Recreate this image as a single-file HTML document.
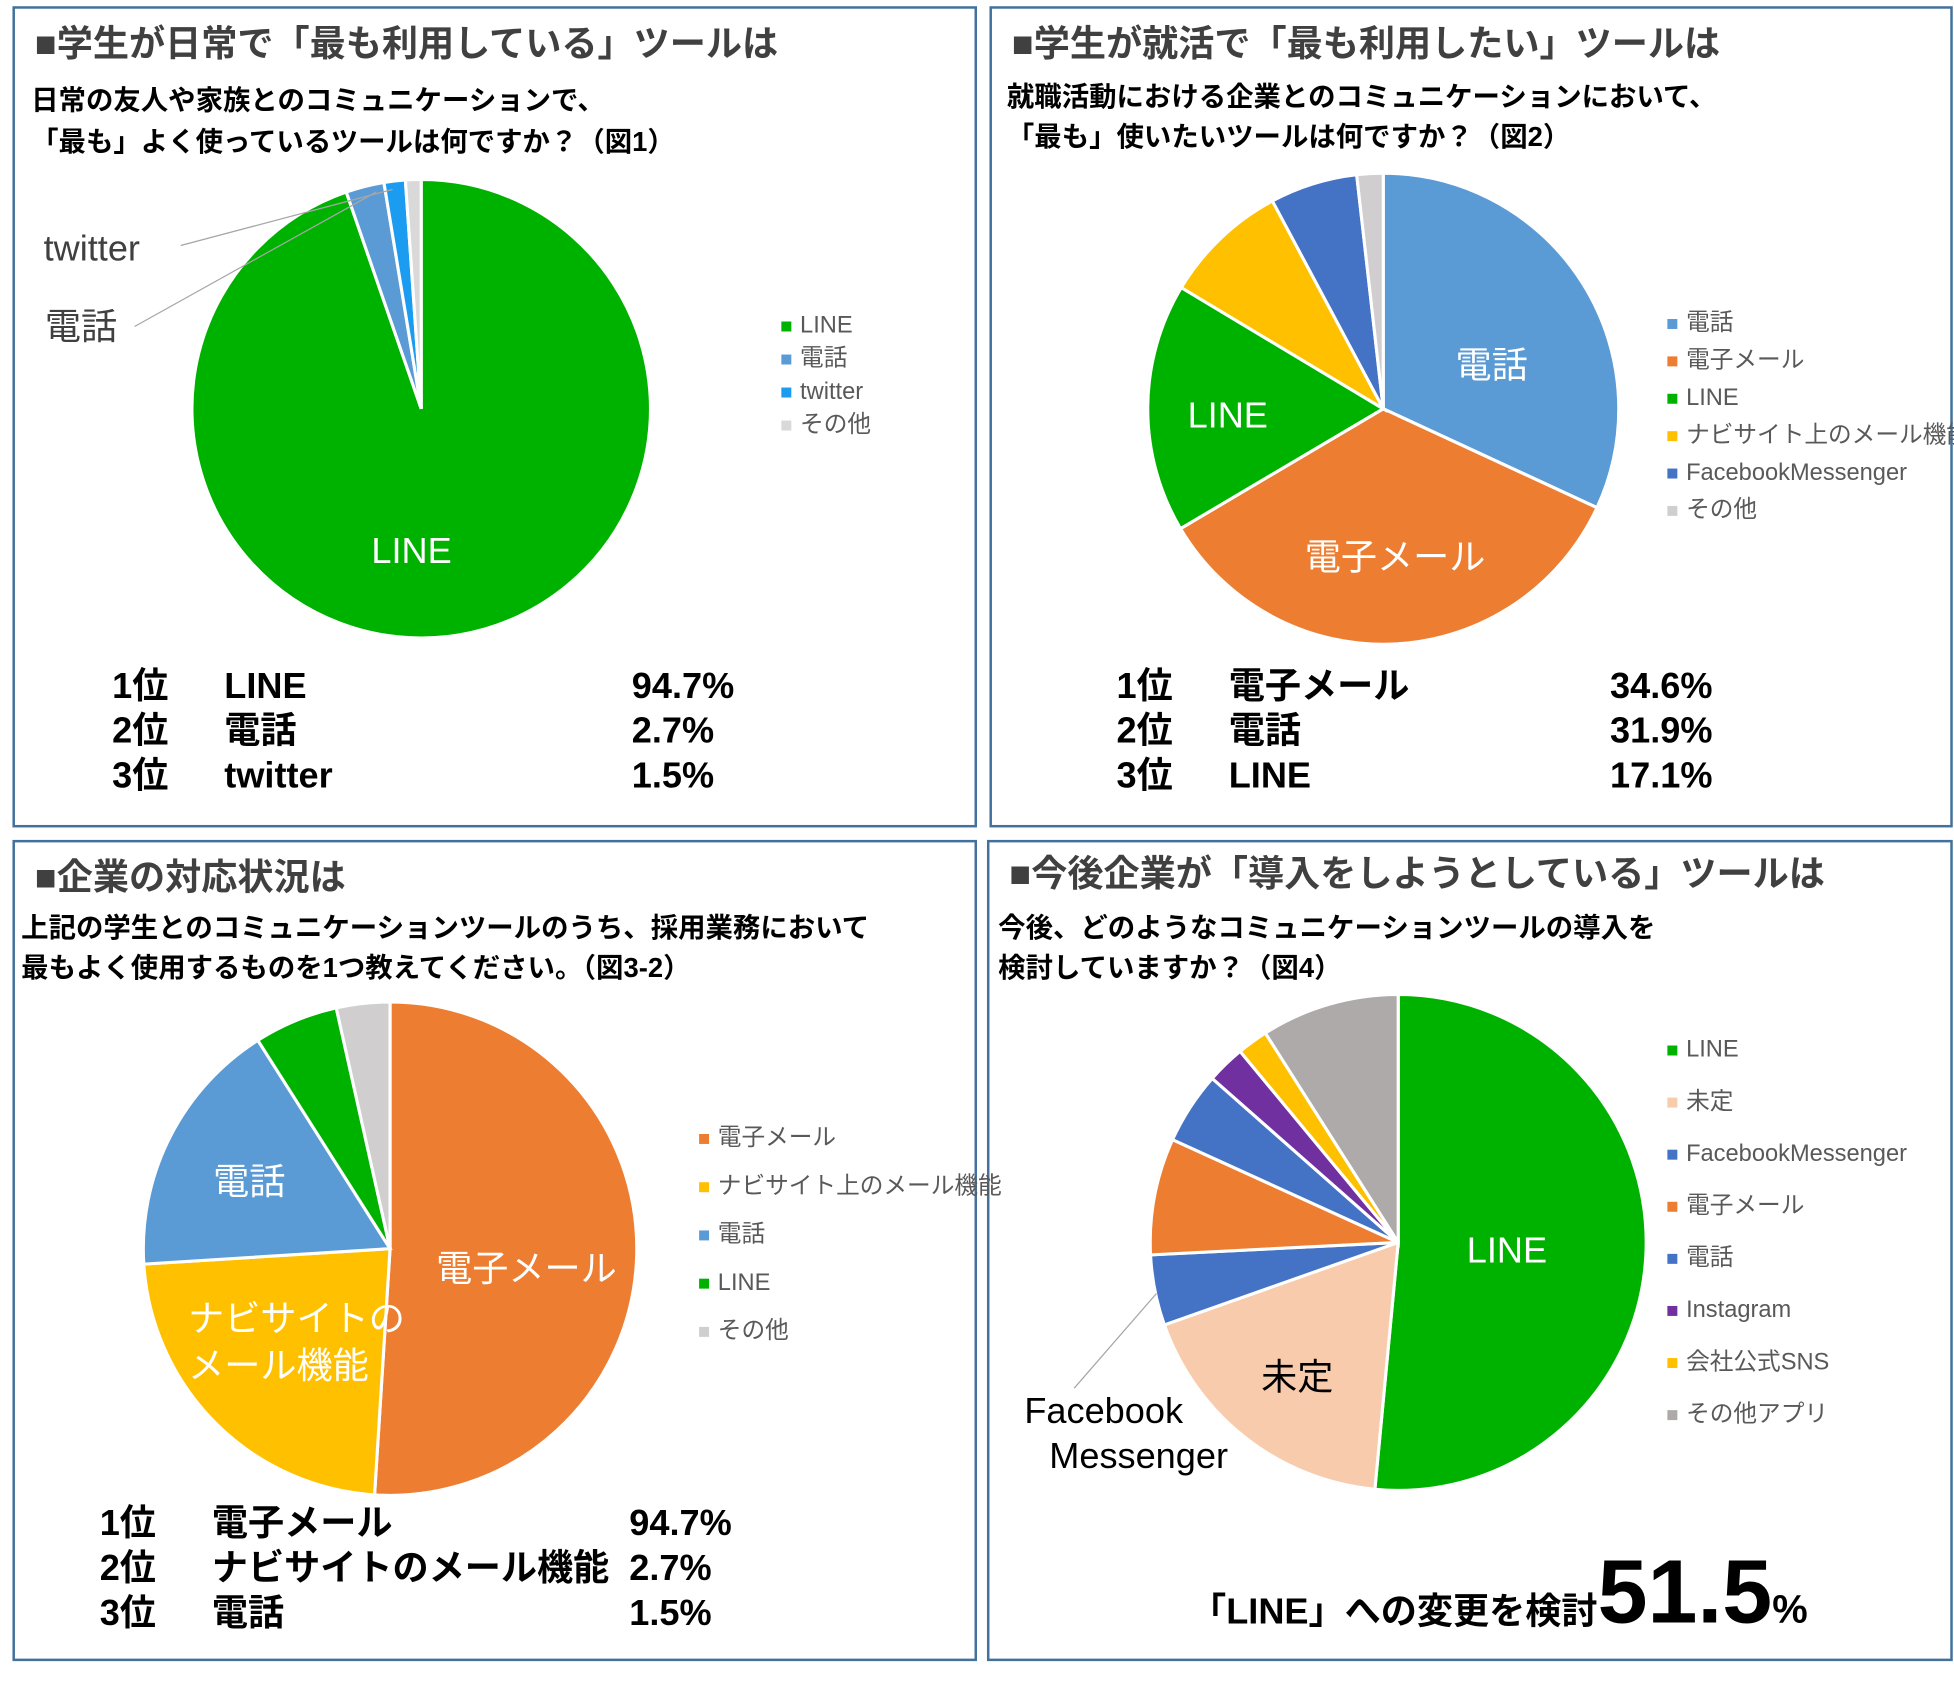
<!DOCTYPE html>
<html><head><meta charset="utf-8"><style>
html,body{margin:0;padding:0;background:#fff;}
svg{display:block;}
text{font-family:"Liberation Sans","Noto Sans CJK JP",sans-serif;}
.t{font-size:29px;font-weight:bold;fill:#404040;}
.s{font-size:22px;font-weight:bold;fill:#000;}
.r{font-size:29px;font-weight:bold;fill:#000;}
.lg{font-size:19px;fill:#595959;}
</style></head><body>
<svg id="root" width="1954" height="1698" viewBox="0 0 1568 1362.6" preserveAspectRatio="none">
<rect x="0" y="0" width="1568" height="1363" fill="#fff"/>
<g fill="none" stroke="#41719c" stroke-width="2">
<rect x="11" y="6" width="772" height="657"/>
<rect x="795" y="6" width="771" height="657"/>
<rect x="11" y="675" width="772" height="657"/>
<rect x="793" y="675" width="773" height="657"/>
</g>
<!-- panel 1 -->
<g>
<text class="t" x="28" y="45">■学生が日常で「最も利用している」ツールは</text>
<text class="s" x="25" y="88">日常の友人や家族とのコミュニケーションで、</text>
<text class="s" x="25" y="121">「最も」よく使っているツールは何ですか？（図1）</text>
<g id="pie1"></g>
<line x1="145" y1="197" x2="315" y2="152" stroke="#a6a6a6" stroke-width="1"/>
<line x1="108" y1="262" x2="302" y2="154" stroke="#a6a6a6" stroke-width="1"/>
<text x="35" y="209" font-size="29" fill="#404040">twitter</text>
<text x="36" y="272" font-size="29" fill="#404040">電話</text>
<text x="298" y="452" font-size="29" fill="#fff">LINE</text>
<g id="leg1"></g>
<g>
<text class="r" x="90" y="560">1位</text><text class="r" x="180" y="560">LINE</text><text class="r" x="507" y="560">94.7%</text>
<text class="r" x="90" y="596">2位</text><text class="r" x="180" y="596">電話</text><text class="r" x="507" y="596">2.7%</text>
<text class="r" x="90" y="632">3位</text><text class="r" x="180" y="632">twitter</text><text class="r" x="507" y="632">1.5%</text>
</g>
</g>
<!-- panel 2 -->
<g>
<text class="t" x="812" y="45">■学生が就活で「最も利用したい」ツールは</text>
<text class="s" x="808" y="85">就職活動における企業とのコミュニケーションにおいて、</text>
<text class="s" x="808" y="117">「最も」使いたいツールは何ですか？（図2）</text>
<g id="pie2"></g>
<text x="1168" y="303" font-size="29" fill="#fff">電話</text>
<text x="953" y="343" font-size="29" fill="#fff">LINE</text>
<text x="1047" y="457" font-size="29" fill="#fff">電子メール</text>
<g id="leg2"></g>
<g>
<text class="r" x="896" y="560">1位</text><text class="r" x="986" y="560">電子メール</text><text class="r" x="1292" y="560">34.6%</text>
<text class="r" x="896" y="596">2位</text><text class="r" x="986" y="596">電話</text><text class="r" x="1292" y="596">31.9%</text>
<text class="r" x="896" y="632">3位</text><text class="r" x="986" y="632">LINE</text><text class="r" x="1292" y="632">17.1%</text>
</g>
</g>
<!-- panel 3 -->
<g>
<text class="t" x="28" y="714">■企業の対応状況は</text>
<text class="s" x="17" y="752">上記の学生とのコミュニケーションツールのうち、採用業務において</text>
<text class="s" x="17" y="784">最もよく使用するものを1つ教えてください。（図3-2）</text>
<g id="pie3"></g>
<text x="171" y="958" font-size="29" fill="#fff">電話</text>
<text x="350" y="1028" font-size="29" fill="#fff">電子メール</text>
<text x="151" y="1068" font-size="29" fill="#fff">ナビサイトの</text>
<text x="151" y="1106" font-size="29" fill="#fff">メール機能</text>
<g id="leg3"></g>
<g>
<text class="r" x="80" y="1232">1位</text><text class="r" x="170" y="1232">電子メール</text><text class="r" x="505" y="1232">94.7%</text>
<text class="r" x="80" y="1268">2位</text><text class="r" x="170" y="1268">ナビサイトのメール機能</text><text class="r" x="505" y="1268">2.7%</text>
<text class="r" x="80" y="1304">3位</text><text class="r" x="170" y="1304">電話</text><text class="r" x="505" y="1304">1.5%</text>
</g>
</g>
<!-- panel 4 -->
<g>
<text class="t" x="810" y="711">■今後企業が「導入をしようとしている」ツールは</text>
<text class="s" x="801" y="752">今後、どのようなコミュニケーションツールの導入を</text>
<text class="s" x="801" y="784">検討していますか？（図4）</text>
<g id="pie4"></g>
<line x1="862" y1="1114" x2="928" y2="1038" stroke="#a6a6a6" stroke-width="1"/>
<text x="1177" y="1013" font-size="29" fill="#fff">LINE</text>
<text x="1012" y="1115" font-size="29" fill="#000">未定</text>
<text x="822" y="1142" font-size="29" fill="#000">Facebook</text>
<text x="842" y="1178" font-size="29" fill="#000">Messenger</text>
<g id="leg4"></g>
<text x="955" y="1303" font-size="29" font-weight="bold" fill="#000">「LINE」への変更を検討</text>
<text x="1282" y="1302" font-size="72" font-weight="bold" fill="#000">51.5<tspan font-size="32">%</tspan></text>
</g>
</svg>
<script>
// Figure 1
const cats1 = ["LINE", "電話", "twitter", "その他"];
const vals1 = [94.7, 2.7, 1.5, 1.1];
const cols1 = ["#00b200", "#5b9bd5", "#1c9cf0", "#d9d9d9"];
// Figure 2
const cats2 = ["電話", "電子メール", "LINE", "ナビサイト上のメール機能", "FacebookMessenger", "その他"];
const vals2 = [31.9, 34.6, 17.1, 8.6, 6.0, 1.8];
const cols2 = ["#5b9bd5", "#ed7d31", "#00b200", "#ffc000", "#4472c4", "#d0cece"];
// Figure 3-2
const cats3 = ["電子メール", "ナビサイト上のメール機能", "電話", "LINE", "その他"];
const vals3 = [51.0, 23.0, 17.0, 5.5, 3.5];
const cols3 = ["#ed7d31", "#ffc000", "#5b9bd5", "#00b200", "#d0cece"];
// Figure 4
const cats4 = ["LINE", "未定", "FacebookMessenger", "電子メール", "電話", "Instagram", "会社公式SNS", "その他アプリ"];
const vals4 = [51.5, 18.1, 4.6, 7.6, 4.7, 2.5, 2.0, 9.0];
const cols4 = ["#00b200", "#f8cbad", "#4472c4", "#ed7d31", "#4472c4", "#7030a0", "#ffc000", "#aeaaaa"];

const NS = "http://www.w3.org/2000/svg";
function angleScale(vals){ const t = vals.reduce((a,b)=>a+b,0); return v => v / t * 2 * Math.PI; }
function drawPie(gid, cats, vals, cols, cx, cy, r){
  const g = document.getElementById(gid);
  const sc = angleScale(vals);
  let a = 0;
  vals.forEach((v,i)=>{
    const a2 = a + sc(v);
    const x1 = cx + r*Math.sin(a), y1 = cy - r*Math.cos(a);
    const x2 = cx + r*Math.sin(a2), y2 = cy - r*Math.cos(a2);
    const large = (a2 - a) > Math.PI ? 1 : 0;
    const p = document.createElementNS(NS, "path");
    p.setAttribute("d", `M${cx},${cy} L${x1},${y1} A${r},${r} 0 ${large} 1 ${x2},${y2} Z`);
    p.setAttribute("fill", cols[i]);
    p.setAttribute("stroke", "#fff");
    p.setAttribute("stroke-width", "2.5");
    
    
    g.appendChild(p);
    a = a2;
  });
}
function drawLegend(gid, cats, cols, x, y0, dy, fs){
  const g = document.getElementById(gid);
  cats.forEach((c,i)=>{
    const y = y0 + i*dy;
    const r = document.createElementNS(NS, "rect");
    r.setAttribute("x", x); r.setAttribute("y", y - 9);
    r.setAttribute("width", 8); r.setAttribute("height", 8);
    r.setAttribute("fill", cols[i]);
    
    
    g.appendChild(r);
    const t = document.createElementNS(NS, "text");
    t.setAttribute("x", x + 15); t.setAttribute("y", y);
    t.setAttribute("font-size", fs); t.setAttribute("fill", "#595959");
    t.textContent = c;
    
    
    g.appendChild(t);
  });
}
drawPie("pie1", cats1, vals1, cols1, 338, 328, 184);
drawPie("pie2", cats2, vals2, cols2, 1110, 328, 189);
drawPie("pie3", cats3, vals3, cols3, 313, 1002, 198);
drawPie("pie4", cats4, vals4, cols4, 1122, 997, 199);
drawLegend("leg1", cats1, cols1, 627, 267, 26.5, 19);
drawLegend("leg2", cats2, cols2, 1338, 265, 30, 19);
drawLegend("leg3", cats3, cols3, 561, 919, 38.7, 19);
drawLegend("leg4", cats4, cols4, 1338, 848, 41.8, 19);
</script>
</body></html>
